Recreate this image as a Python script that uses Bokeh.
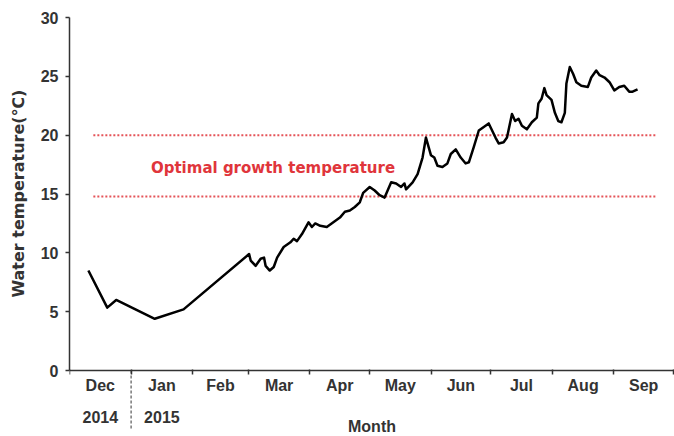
from bokeh.plotting import figure
from bokeh.models import Range1d, FixedTicker, LinearAxis
from bokeh.core.properties import value
from bokeh.embed import file_html
from bokeh.resources import INLINE

# ---- data (x = days since 1 Dec 2014) ----
month_names = ["Dec", "Jan", "Feb", "Mar", "Apr", "May", "Jun", "Jul", "Aug", "Sep"]
month_starts = [0, 31, 62, 90, 121, 151, 182, 212, 243, 274, 304]
year_labels = ["2014", "2015"]

sparse_days = [9.5, 19.0, 23.5, 42.9, 57.4, 90.4]
sparse_temp = [8.5, 5.35, 6.0, 4.4, 5.2, 9.9]

daily_days = [91.2, 93.7, 96.2, 97.9, 98.7, 100.8, 102.8, 104.5, 107.8, 111.2,
              112.8, 114.5, 117.0, 120.3, 122.0, 123.7, 126.2, 129.5, 132.8, 136.1,
              138.6, 141.1, 143.6, 146.1, 147.8, 151.1, 153.6, 156.1, 158.6, 161.9,
              164.4, 166.9, 168.6, 169.4, 172.7, 175.2, 177.7, 179.4, 181.9, 183.6,
              185.2, 187.7, 190.2, 191.9, 194.4, 196.9, 199.4, 201.0, 203.5, 206.0,
              208.5, 211.0, 212.7, 214.4, 216.0, 218.5, 220.2, 222.7, 224.3, 226.0,
              227.7, 230.2, 232.7, 235.2, 236.0, 237.6, 239.0, 240.1, 242.6, 244.3,
              246.0, 247.6, 249.3, 250.1, 251.8, 253.5, 255.1, 257.6, 260.9, 262.6,
              265.1, 266.8, 269.3, 271.8, 274.2, 276.7, 279.2, 281.7, 283.4, 285.9]
daily_temp = [9.35, 8.9, 9.5, 9.6, 8.9, 8.5, 8.8, 9.6, 10.5, 10.9,
              11.2, 11.0, 11.6, 12.6, 12.2, 12.5, 12.3, 12.2, 12.6, 13.0,
              13.5, 13.6, 13.9, 14.3, 15.1, 15.6, 15.3, 14.9, 14.7, 16.0,
              15.9, 15.6, 15.9, 15.4, 16.0, 16.7, 18.1, 19.8, 18.3, 18.1,
              17.4, 17.3, 17.6, 18.4, 18.8, 18.1, 17.6, 17.7, 19.0, 20.4,
              20.7, 21.0, 20.4, 19.8, 19.3, 19.4, 19.8, 21.8, 21.2, 21.4,
              20.8, 20.5, 21.1, 21.5, 22.7, 23.1, 24.0, 23.4, 23.0, 21.9,
              21.2, 21.1, 21.9, 24.4, 25.8, 25.2, 24.5, 24.2, 24.1, 24.9,
              25.5, 25.1, 24.9, 24.5, 23.8, 24.1, 24.2, 23.7, 23.7, 23.9]

optimal_upper = 20.0
optimal_lower = 14.8
optimal_span = [12, 295]
optimal_text = "Optimal growth temperature"
optimal_text_pos = [41.0, 17.25]

y_ticks = [0, 5, 10, 15, 20, 25, 30]
y_title = "Water temperature(℃)"

# layout positions (data units below the zero line, used for the axis area)
Y_MIN = -5.6          # bottom of the canvas
YEAR_ROW = -3.45      # where the year labels hang from
SEP_END = -4.93       # bottom of the dashed year separator
TITLE_Y = -5.5        # bottom of the "Month" title

FONT = "Liberation Sans"
WIDE = "DejaVu Sans"
TXT = "#333333"
RED = "#e0353b"

days = sparse_days + daily_days
temps = sparse_temp + daily_temp

p = figure(width=674, height=436, output_backend="svg", toolbar_location=None,
           x_range=Range1d(0, 304.5), y_range=Range1d(Y_MIN, 30),
           min_border_left=64, min_border_right=0, min_border_top=17,
           min_border_bottom=0, x_axis_location=None, y_axis_location="left",
           title_location="left")
p.outline_line_color = None
p.xgrid.visible = False
p.ygrid.visible = False
p.background_fill_color = "white"
p.border_fill_color = "white"

# y-axis title (as a left title so it sits beside the 0-30 part of the axis)
p.title.text = y_title
p.title.align = "left"
p.title.offset = 139
p.title.standoff = 16
p.title.vertical_align = "top"
p.title.text_font = WIDE
p.title.text_font_style = "bold"
p.title.text_font_size = "16px"
p.title.text_color = TXT

# y axis (line only from 0 to 30)
ya = p.yaxis[0]
ya.bounds = (0, 30)
ya.ticker = FixedTicker(ticks=y_ticks, minor_ticks=[])
ya.axis_line_color = TXT
ya.axis_line_width = 1.5
ya.major_tick_line_color = TXT
ya.major_tick_line_width = 1.5
ya.major_tick_out = 4
ya.major_tick_in = 0
ya.minor_tick_line_color = None
ya.major_label_text_font = FONT
ya.major_label_text_font_style = "bold"
ya.major_label_text_font_size = "16px"
ya.major_label_text_color = TXT
ya.major_label_standoff = 7

# x axis at y = 0: month names centred, ticks at month boundaries
centers = [(month_starts[i] + month_starts[i + 1]) / 2 for i in range(len(month_names))]
xa = LinearAxis(ticker=FixedTicker(ticks=centers, minor_ticks=month_starts), fixed_location=0)
xa.major_label_overrides = {c: n for c, n in zip(centers, month_names)}
xa.axis_line_color = TXT
xa.axis_line_width = 1.5
xa.major_tick_line_color = None
xa.major_tick_out = 0
xa.major_tick_in = 0
xa.minor_tick_line_color = TXT
xa.minor_tick_line_width = 1.5
xa.minor_tick_out = 4
xa.minor_tick_in = 1
xa.major_label_text_font = FONT
xa.major_label_text_font_style = "bold"
xa.major_label_text_font_size = "16px"
xa.major_label_text_color = TXT
xa.major_label_standoff = 2
p.add_layout(xa, "below")

# year row
yx = LinearAxis(ticker=FixedTicker(ticks=centers[:2], minor_ticks=[]), fixed_location=YEAR_ROW)
yx.major_label_overrides = {c: n for c, n in zip(centers[:2], year_labels)}
yx.axis_line_color = None
yx.major_tick_line_color = None
yx.minor_tick_line_color = None
yx.major_tick_out = 0
yx.major_tick_in = 0
yx.major_label_text_font = FONT
yx.major_label_text_font_style = "bold"
yx.major_label_text_font_size = "16px"
yx.major_label_text_color = TXT
yx.major_label_standoff = 0
p.add_layout(yx, "below")

# dashed separator between the two years
p.segment(x0=[month_starts[1]], y0=[0], x1=[month_starts[1]], y1=[SEP_END],
          line_color="#555555", line_width=1.2, line_dash="3 2")

# x-axis title
p.text(x=[(0 + 304.5) / 2], y=[TITLE_Y], text=["Month"], text_font=value(FONT),
       text_font_style="bold", text_font_size="16px", text_color=TXT,
       text_align="center", text_baseline="bottom")

# optimal range lines
for lvl in (optimal_upper, optimal_lower):
    p.line(optimal_span, [lvl, lvl], line_color=RED, line_width=2, line_dash="2 2", line_alpha=0.85)

p.text(x=[optimal_text_pos[0]], y=[optimal_text_pos[1]], text=[optimal_text],
       text_font=value(WIDE), text_font_style="bold", text_font_size="15px",
       text_color=RED, text_align="left", text_baseline="middle")

# water temperature
p.line(days, temps, line_color="black", line_width=2.5, line_join="round")

open("out.html", "w").write(file_html(p, INLINE))
